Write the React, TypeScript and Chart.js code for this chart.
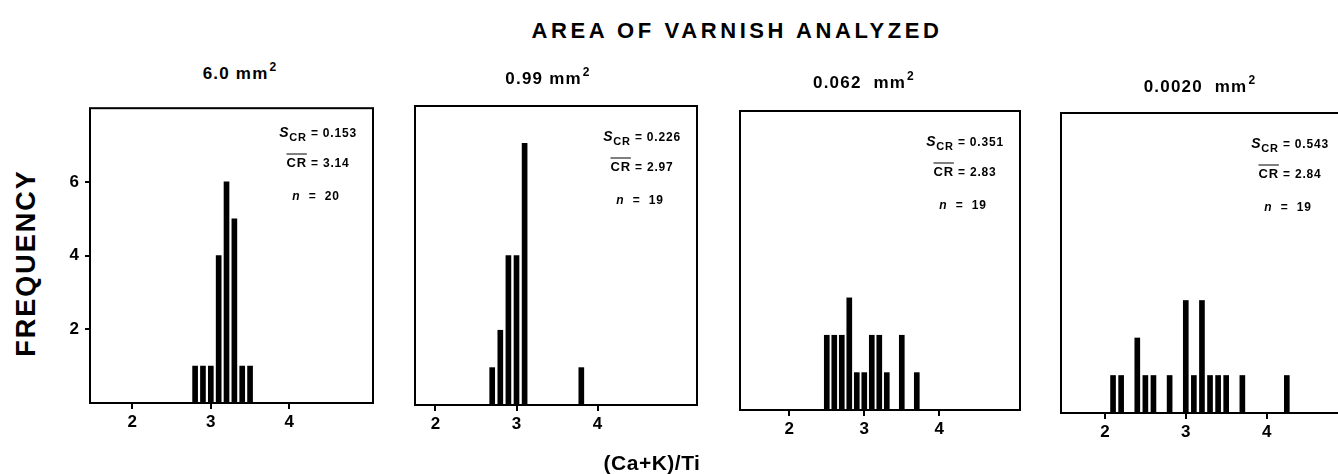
import React, { useEffect, useRef } from "react";
import { Chart, registerables } from "chart.js";

Chart.register(...registerables);

// ---------- data ----------
const mainTitle = "AREA OF VARNISH ANALYZED";
const xAxisTitle = "(Ca+K)/Ti";
const yAxisTitle = "FREQUENCY";
const xTickValues = [2, 3, 4];
const yTickValues = [2, 4, 6];

const areaLabels = ["6.0 mm", "0.99 mm", "0.062  mm", "0.0020  mm"];
const sCRValues = ["0.153", "0.226", "0.351", "0.543"];
const meanCRValues = ["3.14", "2.97", "2.83", "2.84"];
const nValues = ["20", "19", "19", "19"];

const ratios1 = [2.8, 2.9, 3.0, 3.1, 3.2, 3.3, 3.4, 3.5];
const freq1 = [1, 1, 1, 4, 6, 5, 1, 1];
const ratios2 = [2.7, 2.8, 2.9, 3.0, 3.1, 3.8];
const freq2 = [1, 2, 4, 4, 7, 1];
const ratios3 = [2.5, 2.6, 2.7, 2.8, 2.9, 3.0, 3.1, 3.2, 3.3, 3.5, 3.7];
const freq3 = [2, 2, 2, 3, 1, 1, 2, 2, 1, 2, 1];
const ratios4 = [2.1, 2.2, 2.4, 2.5, 2.6, 2.8, 3.0, 3.1, 3.2, 3.3, 3.4, 3.5, 3.7, 4.25];
const freq4 = [1, 1, 2, 1, 1, 1, 3, 1, 3, 1, 1, 1, 1, 1];

const xMins = [1.461, 1.747, 1.343, 1.456];
const xMaxs = [5.066, 5.228, 5.076, 4.97];
const yMin = 0;
const yMax = 8;

const ratioSets = [ratios1, ratios2, ratios3, ratios4];
const freqSets = [freq1, freq2, freq3, freq4];

// ---------- layout (positions only) ----------
const FONT = "'Liberation Sans', Arial, Helvetica, sans-serif";
const boxes = [
  { left: 90, top: 102, right: 373, bottom: 403 },
  { left: 415, top: 106, right: 697, bottom: 405 },
  { left: 740, top: 111, right: 1020, bottom: 410 },
  { left: 1061, top: 113, right: 1345, bottom: 413 },
];
const areaLabelPos = [
  { x: 240, y: 73 },
  { x: 548, y: 78 },
  { x: 864, y: 82 },
  { x: 1200, y: 86 },
];
const PAD_L = 40;
const PAD_T = 10;
const PAD_R = 10;
const PAD_B = 40;

const boxPlugin = {
  id: "panelBox",
  afterDraw(chart: any) {
    const { ctx, chartArea: a } = chart;
    ctx.save();
    ctx.strokeStyle = "#000";
    ctx.lineWidth = 2;
    ctx.strokeRect(a.left, a.top, a.right - a.left, a.bottom - a.top);
    ctx.restore();
  },
};

function Panel({ index }: { index: number }) {
  const ref = useRef<HTMLCanvasElement | null>(null);
  const b = boxes[index];
  const w = b.right - b.left + PAD_L + PAD_R;
  const h = b.bottom - b.top + PAD_T + PAD_B;

  useEffect(() => {
    if (!ref.current) return;
    const ratios = ratioSets[index];
    const freqs = freqSets[index];
    const first = index === 0;
    const chart = new Chart(ref.current, {
      type: "bar",
      data: {
        datasets: [
          {
            data: ratios.map((x, i) => ({ x, y: freqs[i] })),
            backgroundColor: "#000",
            borderWidth: 0,
            barThickness: 5,
          } as any,
        ],
      },
      options: {
        animation: false,
        responsive: false,
        maintainAspectRatio: false,
        events: [],
        layout: { padding: { left: 0, top: PAD_T, right: PAD_R, bottom: 0 } },
        plugins: {
          legend: { display: false },
          tooltip: { enabled: false },
          title: { display: false },
        },
        scales: {
          x: {
            type: "linear",
            min: xMins[index],
            max: xMaxs[index],
            offset: false,
            afterFit: (s: any) => {
              s.height = PAD_B;
            },
            afterBuildTicks: (s: any) => {
              s.ticks = xTickValues.map((v) => ({ value: v }));
            },
            grid: {
              display: true,
              drawOnChartArea: false,
              drawTicks: true,
              tickLength: 6,
              color: "#000",
              lineWidth: 2,
              offset: false,
            },
            border: { display: false },
            ticks: {
              color: "#000",
              font: { family: FONT, size: 17, weight: "bold" },
              padding: 3,
              maxRotation: 0,
              autoSkip: false,
            },
          },
          y: {
            type: "linear",
            min: yMin,
            max: yMax,
            afterFit: (s: any) => {
              s.width = PAD_L;
            },
            afterBuildTicks: (s: any) => {
              s.ticks = first ? yTickValues.map((v) => ({ value: v })) : [];
            },
            grid: {
              display: first,
              drawOnChartArea: false,
              drawTicks: first,
              tickLength: 5,
              color: "#000",
              lineWidth: 2,
            },
            border: { display: false },
            ticks: {
              display: first,
              color: "#000",
              font: { family: FONT, size: 17, weight: "bold" },
              padding: 6,
            },
          },
        },
      } as any,
      plugins: [boxPlugin],
    });
    return () => chart.destroy();
  }, [index]);

  return (
    <canvas
      ref={ref}
      width={w}
      height={h}
      style={{
        position: "absolute",
        left: b.left - PAD_L,
        top: b.top - PAD_T,
        width: w,
        height: h,
      }}
    />
  );
}

const centered = (x: number, y: number, extra: React.CSSProperties = {}): React.CSSProperties => ({
  position: "absolute",
  left: x,
  top: y,
  transform: "translate(-50%, -50%)",
  whiteSpace: "pre",
  fontWeight: "bold",
  color: "#000",
  lineHeight: 1,
  ...extra,
});

export default function App() {
  return (
    <div
      style={{
        position: "fixed",
        inset: 0,
        overflow: "hidden",
        background: "#fff",
        fontFamily: FONT,
      }}
    >
      {boxes.map((_, i) => (
        <Panel key={i} index={i} />
      ))}

      <div style={centered(737, 31, { fontSize: 22, letterSpacing: 3.6 })}>{mainTitle}</div>
      <div style={centered(652, 462, { fontSize: 21, letterSpacing: 0.5 })}>{xAxisTitle}</div>
      <div
        style={centered(26, 263, {
          fontSize: 27,
          letterSpacing: 2,
          transform: "translate(-50%, -50%) rotate(-90deg)",
        })}
      >
        {yAxisTitle}
      </div>

      {areaLabels.map((t, i) => (
        <div key={"a" + i} style={centered(areaLabelPos[i].x, areaLabelPos[i].y, { fontSize: 17, letterSpacing: 1.2 })}>
          {t}
          <span style={{ fontSize: 12, position: "relative", top: -8, marginLeft: 1 }}>2</span>
        </div>
      ))}

      {boxes.map((b, i) => (
        <React.Fragment key={"s" + i}>
          <div style={centered(b.right - 55, b.top + 30, { fontSize: 12, letterSpacing: 0.8 })}>
            <i style={{ fontSize: 14 }}>S</i>
            <span style={{ fontSize: 11, position: "relative", top: 4 }}>CR</span>
            {" = " + sCRValues[i]}
          </div>
          <div style={centered(b.right - 55, b.top + 60, { fontSize: 12, letterSpacing: 0.8 })}>
            <span style={{ fontSize: 13, textDecoration: "overline" }}>CR</span>
            {" = " + meanCRValues[i]}
          </div>
          <div style={centered(b.right - 57, b.top + 94, { fontSize: 12, letterSpacing: 0.8 })}>
            <i>n</i>
            {"  =  " + nValues[i]}
          </div>
        </React.Fragment>
      ))}
    </div>
  );
}
